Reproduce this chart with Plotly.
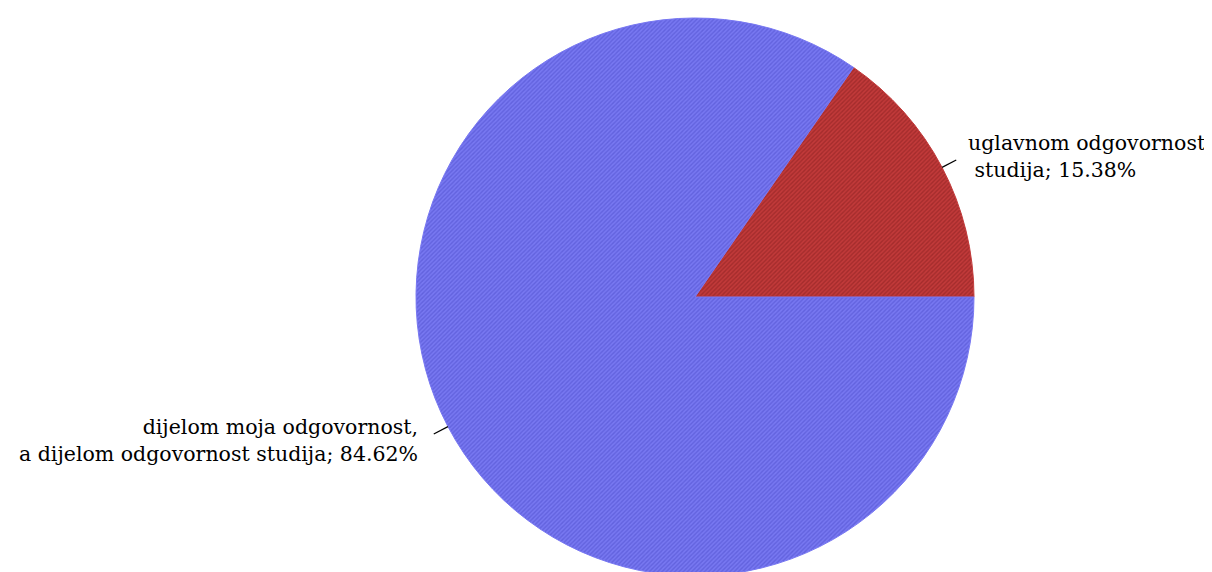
import math
import plotly.graph_objects as go

labels = ["uglavnom odgovornost<br> studija", "dijelom moja odgovornost,<br>a dijelom odgovornost studija"]
values = [15.38, 84.62]
bg_colors = ["#c23a3a", "#7878f2"]
fg_colors = ["#a42c2c", "#6262de"]

# the page body adds an 8px offset; figure coordinates below are figure-local
W, H = 1212, 580
ML, MR, MT, MB = 170, 8, 10, 12
pw, ph = W - ML - MR, H - MT - MB
R = min(pw, ph) / 2
cx_px = ML + pw / 2
cy_px = MT + ph / 2

total = sum(values)
first_frac = values[0] / total

fig = go.Figure(go.Pie(
    labels=labels,
    values=values,
    sort=False,
    direction="clockwise",
    rotation=90 - 360 * first_frac,
    textinfo="none",
    hoverinfo="label+percent",
    marker=dict(
        colors=bg_colors,
        line=dict(color=bg_colors, width=1),
        pattern=dict(shape="/", size=3, solidity=0.45, fgcolor=fg_colors, bgcolor=bg_colors),
    ),
    showlegend=False,
))

def to_paper(px, py):
    return (px - ML) / pw, (H - MB - py) / ph

start = 0.0
shapes, annotations = [], []
for lab, v in zip(labels, values):
    frac = v / total
    mid = start + frac * 180.0  # degrees counterclockwise from east
    start += frac * 360.0
    a = math.radians(mid)
    ca, sa = math.cos(a), math.sin(a)
    x0, y0 = cx_px + R * ca, cy_px - R * sa
    x1, y1 = cx_px + (R + 16) * ca, cy_px - (R + 16) * sa
    p0, p1 = to_paper(x0, y0), to_paper(x1, y1)
    shapes.append(dict(type="line", xref="paper", yref="paper",
                       x0=p0[0], y0=p0[1], x1=p1[0], y1=p1[1],
                       line=dict(color="black", width=1.2)))
    right = ca >= 0
    tx = x1 + (10 if right else -14)
    ty = y1 + (-3 if right else 6)
    tp = to_paper(tx, ty)
    annotations.append(dict(
        x=tp[0], y=tp[1], xref="paper", yref="paper",
        text=f"{lab}; {v:.2f}%", showarrow=False,
        xanchor="left" if right else "right", yanchor="middle",
        align="left" if right else "right",
        font=dict(family="DejaVu Serif", size=20.5, color="black"),
    ))

fig.update_layout(
    width=W, height=H,
    margin=dict(l=ML, r=MR, t=MT, b=MB),
    paper_bgcolor="white", plot_bgcolor="white",
    shapes=shapes, annotations=annotations,
)
fig.write_html("out.html")
